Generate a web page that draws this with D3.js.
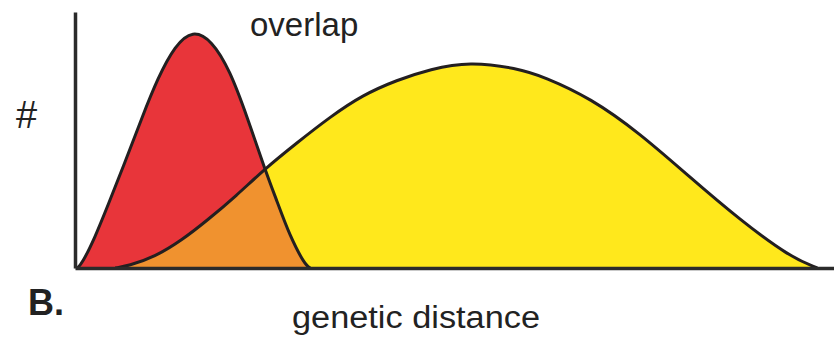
<!DOCTYPE html>
<html>
<head>
<meta charset="utf-8">
<script src="https://cdn.jsdelivr.net/npm/d3@7"></script>
<style>
  body { margin: 0; background: #fff; }
  svg { display: block; font-family: "Liberation Sans", Arial, sans-serif; }
</style>
</head>
<body>
<div id="chart"></div>
<script>
// two distributions along genetic distance (0-100), counts 0-100
var redDist  = [0.3, 0.9, 2.6, 4.3, 6.6, 8.8, 10.9, 13.2, 15.5, 18.0, 20.4, 22.7, 25.0, 26.6, 28.3, 30.3, 31.0];
var redCount = [0, 1.6, 11.7, 24.2, 41.4, 58.6, 74.2, 87.0, 93.0, 89.0, 77.3, 58.9, 38.7, 26.2, 12.5, 1.2, 0];

var yellowDist  = [5.3, 7.0, 10.5, 14.1, 17.5, 21.2, 25.0, 29.2, 33.6, 37.9, 42.4, 46.8, 52.0, 58.2, 61.9, 67.9, 74.4, 81.0, 87.6, 94.2, 97.8];
var yellowCount = [0, 0.8, 4.3, 10.9, 18.8, 28.1, 38.7, 48.8, 59.0, 67.6, 73.4, 77.7, 80.6, 78.1, 74.6, 66.4, 52.7, 35.5, 18.8, 4.3, 0];

var labels = { y: "#", x: "genetic distance", overlap: "overlap", panel: "B." };

var width = 834, height = 337;

var svg = d3.select("#chart").append("svg")
    .attr("width", width)
    .attr("height", height);

var x = d3.scaleLinear().domain([0, 100]).range([75, 834]);
var y = d3.scaleLinear().domain([0, 100]).range([268, 12]);

var red = redDist.map(function(d, i) { return { x: d, y: redCount[i] }; });
var yellow = yellowDist.map(function(d, i) { return { x: d, y: yellowCount[i] }; });

var curve = d3.curveBasis;

var area = d3.area()
    .curve(curve)
    .x(function(d) { return x(d.x); })
    .y0(y(0))
    .y1(function(d) { return y(d.y); });

var line = d3.line()
    .curve(curve)
    .x(function(d) { return x(d.x); })
    .y(function(d) { return y(d.y); });

svg.append("clipPath")
    .attr("id", "yellow-clip")
  .append("path")
    .attr("d", area(yellow));

svg.append("path").attr("d", area(yellow)).attr("fill", "#ffe81c");
svg.append("path").attr("d", area(red)).attr("fill", "#e8353a");
// overlap = red area inside the yellow area
svg.append("path").attr("d", area(red)).attr("fill", "#f0922f")
    .attr("clip-path", "url(#yellow-clip)");

svg.append("path").attr("d", line(yellow))
    .attr("fill", "none").attr("stroke", "#231f20").attr("stroke-width", 3);
svg.append("path").attr("d", line(red))
    .attr("fill", "none").attr("stroke", "#231f20").attr("stroke-width", 3);

// axes (domain lines only)
svg.append("g")
    .attr("transform", "translate(0," + y(0) + ")")
    .call(d3.axisBottom(x).tickValues([]).tickSizeOuter(0))
    .select(".domain").attr("stroke", "#2b2b2b").attr("stroke-width", 3.5);

svg.append("g")
    .attr("transform", "translate(" + x(0) + ",0)")
    .call(d3.axisLeft(y).tickValues([]).tickSizeOuter(0))
    .select(".domain").attr("stroke", "#2b2b2b").attr("stroke-width", 3.5);

svg.append("text")
    .attr("x", 16).attr("y", 128)
    .attr("font-size", 38).attr("fill", "#222")
    .text(labels.y);

svg.append("text")
    .attr("x", 250).attr("y", 36)
    .attr("font-size", 33).attr("fill", "#222")
    .text(labels.overlap);

svg.append("text")
    .attr("x", 292).attr("y", 328)
    .attr("font-size", 31).attr("fill", "#222")
    .attr("textLength", 248).attr("lengthAdjust", "spacingAndGlyphs")
    .text(labels.x);

svg.append("text")
    .attr("x", 28).attr("y", 315)
    .attr("font-size", 36).attr("font-weight", "bold").attr("fill", "#222")
    .text(labels.panel);
</script>
</body>
</html>
